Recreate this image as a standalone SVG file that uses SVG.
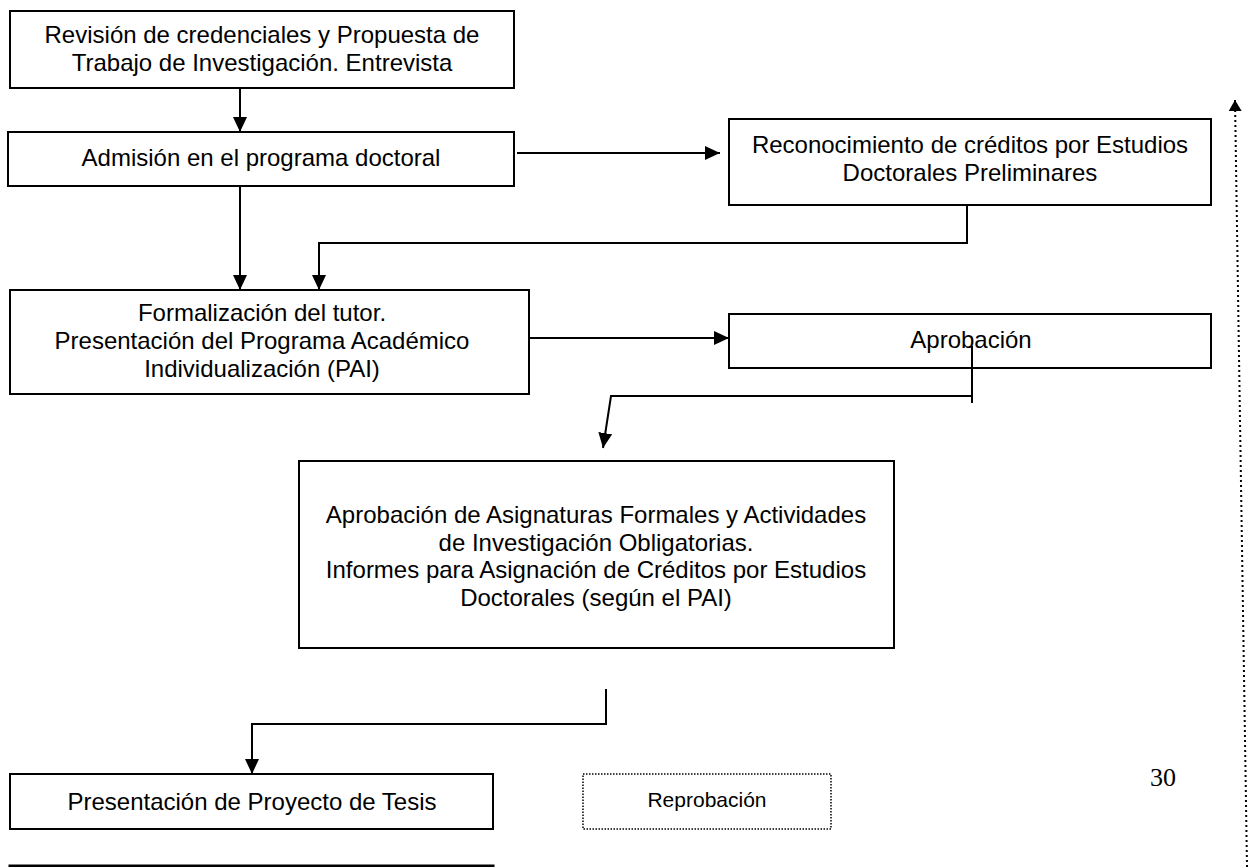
<svg xmlns="http://www.w3.org/2000/svg" width="1252" height="867" viewBox="0 0 1252 867">
<defs>
<marker id="ah" viewBox="0 0 15 14" refX="15" refY="7" markerWidth="15" markerHeight="14" markerUnits="userSpaceOnUse" orient="auto">
<path d="M0,0 L15,7 L0,14 z" fill="#000"/>
</marker>
<marker id="ahs" viewBox="0 0 11 13" refX="11" refY="6.5" markerWidth="11" markerHeight="13" markerUnits="userSpaceOnUse" orient="auto">
<path d="M0,0 L11,6.5 L0,13 z" fill="#000"/>
</marker>
<style>
.box{fill:#fff;stroke:#000;stroke-width:2}
.dot{fill:#fff;stroke:#000;stroke-width:1.5;stroke-dasharray:1.5 1.5}
.t{font-family:"Liberation Sans",Arial,sans-serif;font-size:24px;fill:#000;text-anchor:middle}
.c{fill:none;stroke:#000;stroke-width:2}
</style>
</defs>
<rect width="1252" height="867" fill="#fff"/>
<g id="connectors">
<path class="c" d="M240,88 L240,132" marker-end="url(#ah)"/>
<path class="c" d="M517,153 L720,153" marker-end="url(#ah)"/>
<path class="c" d="M240,186 L240,290" marker-end="url(#ah)"/>
<path class="c" d="M967,205 L967,243 L319,243 L319,290" marker-end="url(#ah)"/>
<path class="c" d="M529,338 L729,338" marker-end="url(#ah)"/>
<path class="c" d="M972,346 L972,403"/>
<path class="c" d="M972,396 L611,396 L603,448" marker-end="url(#ah)"/>
<path class="c" d="M606,689 L606,724 L252,724 L252,774" marker-end="url(#ah)"/>
<path d="M1247,867 L1235,100" fill="none" stroke="#000" stroke-width="2" stroke-dasharray="2 3" marker-end="url(#ahs)"/>
</g>
<g id="n1">
<rect class="box" x="10" y="11" width="504" height="77"/>
<text class="t" x="262" y="43">Revisión de credenciales y Propuesta de</text>
<text class="t" x="262" y="71">Trabajo de Investigación. Entrevista</text>
</g>
<g id="n2">
<rect class="box" x="8" y="132" width="506" height="54"/>
<text class="t" x="261" y="166">Admisión en el programa doctoral</text>
</g>
<g id="n3">
<rect class="box" x="729" y="119" width="482" height="86"/>
<text class="t" x="970" y="153">Reconocimiento de créditos por Estudios</text>
<text class="t" x="970" y="181">Doctorales Preliminares</text>
</g>
<g id="n4">
<rect class="box" x="10" y="290" width="519" height="104"/>
<text class="t" x="262" y="321">Formalización del tutor.</text>
<text class="t" x="262" y="349">Presentación del Programa Académico</text>
<text class="t" x="262" y="377">Individualización (PAI)</text>
</g>
<g id="n5">
<rect class="box" x="729" y="314" width="482" height="54"/>
<text class="t" x="971" y="348">Aprobación</text>
</g>
<path class="c" d="M972,346 L972,368"/>
<g id="n6">
<rect class="box" x="299" y="461" width="595" height="187"/>
<text class="t" x="596" y="523">Aprobación de Asignaturas Formales y Actividades</text>
<text class="t" x="596" y="551">de Investigación Obligatorias.</text>
<text class="t" x="596" y="578">Informes para Asignación de Créditos por Estudios</text>
<text class="t" x="596" y="606">Doctorales (según el PAI)</text>
</g>
<g id="n7">
<rect class="box" x="10" y="774" width="483" height="55"/>
<text class="t" x="252" y="810">Presentación de Proyecto de Tesis</text>
</g>
<g id="n8">
<rect class="dot" x="583" y="774" width="248" height="55"/>
<text class="t" x="707" y="807" style="font-size:21px">Reprobación</text>
</g>
<g id="n9">
<rect x="10" y="866" width="483" height="20" fill="#fff" stroke="#000" stroke-width="3"/>
</g>
<text x="1150" y="786" style="font-family:'Liberation Serif','Times New Roman',serif;font-size:26px;fill:#000">30</text>
</svg>
